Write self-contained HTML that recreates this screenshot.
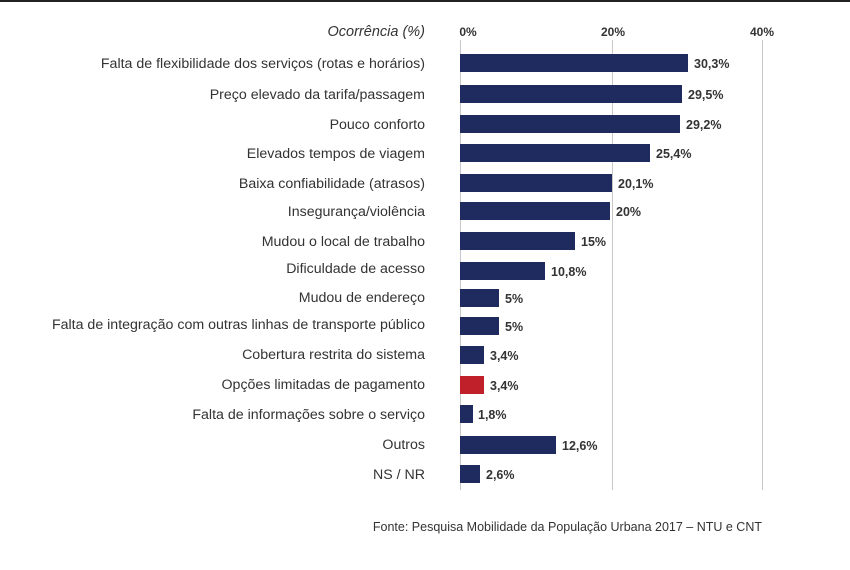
<!DOCTYPE html>
<html><head><meta charset="utf-8"><style>
body{margin:0;background:#fff;}
svg text{font-family:"Liberation Sans",sans-serif;}
</style></head><body>
<svg width="850" height="565" xmlns="http://www.w3.org/2000/svg">
<rect x="0" y="0" width="850" height="2" fill="#222"/>
<g stroke="#c8c8c8" stroke-width="1">
<line x1="460.5" y1="40" x2="460.5" y2="490"/>
<line x1="612.5" y1="40" x2="612.5" y2="490"/>
<line x1="762.5" y1="40" x2="762.5" y2="490"/>
</g>
<text x="425" y="36" text-anchor="end" font-size="14.5" font-style="italic" fill="#333">Ocorrência (%)</text>
<g font-size="12" font-weight="bold" fill="#333" text-anchor="middle">
<text x="468" y="36">0%</text><text x="613" y="36">20%</text><text x="762" y="36">40%</text>
</g>
<g font-size="14.2" fill="#333" text-anchor="end">
<text x="425" y="68">Falta de flexibilidade dos serviços (rotas e horários)</text>
<text x="425" y="99">Preço elevado da tarifa/passagem</text>
<text x="425" y="129">Pouco conforto</text>
<text x="425" y="158">Elevados tempos de viagem</text>
<text x="425" y="188">Baixa confiabilidade (atrasos)</text>
<text x="425" y="216">Insegurança/violência</text>
<text x="425" y="246">Mudou o local de trabalho</text>
<text x="425" y="273">Dificuldade de acesso</text>
<text x="425" y="302">Mudou de endereço</text>
<text x="425" y="329">Falta de integração com outras linhas de transporte público</text>
<text x="425" y="359">Cobertura restrita do sistema</text>
<text x="425" y="389">Opções limitadas de pagamento</text>
<text x="425" y="419">Falta de informações sobre o serviço</text>
<text x="425" y="449">Outros</text>
<text x="425" y="479">NS / NR</text>
</g>
<g fill="#1f2a5e">
<rect x="460" y="54" width="228" height="18"/>
<rect x="460" y="85" width="222" height="18"/>
<rect x="460" y="115" width="220" height="18"/>
<rect x="460" y="144" width="190" height="18"/>
<rect x="460" y="174" width="152" height="18"/>
<rect x="460" y="202" width="150" height="18"/>
<rect x="460" y="232" width="115" height="18"/>
<rect x="460" y="262" width="85" height="18"/>
<rect x="460" y="289" width="39" height="18"/>
<rect x="460" y="317" width="39" height="18"/>
<rect x="460" y="346" width="24" height="18"/>
<rect x="460" y="405" width="13" height="18"/>
<rect x="460" y="436" width="96" height="18"/>
<rect x="460" y="465" width="20" height="18"/>
</g>
<rect x="460" y="376" width="24" height="18" fill="#c0202a"/>
<g font-size="12.5" font-weight="bold" fill="#333">
<text x="694" y="68">30,3%</text>
<text x="688" y="99">29,5%</text>
<text x="686" y="129">29,2%</text>
<text x="656" y="158">25,4%</text>
<text x="618" y="188">20,1%</text>
<text x="616" y="216">20%</text>
<text x="581" y="246">15%</text>
<text x="551" y="276">10,8%</text>
<text x="505" y="303">5%</text>
<text x="505" y="331">5%</text>
<text x="490" y="360">3,4%</text>
<text x="490" y="390">3,4%</text>
<text x="478" y="419">1,8%</text>
<text x="562" y="450">12,6%</text>
<text x="486" y="479">2,6%</text>
</g>
<text x="762" y="531" text-anchor="end" font-size="12.5" fill="#333">Fonte: Pesquisa Mobilidade da População Urbana 2017 – NTU e  CNT</text>
</svg>
</body></html>
